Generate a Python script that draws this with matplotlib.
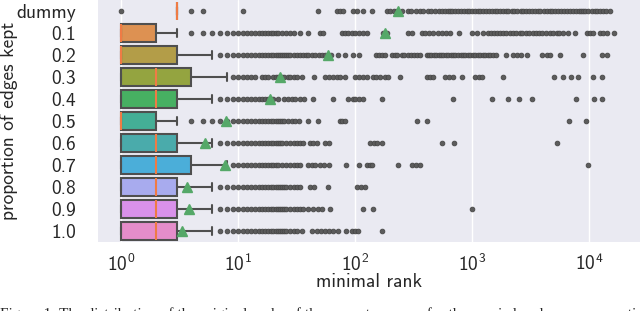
import matplotlib.pyplot as plt
import seaborn as sns

# categories (top to bottom)
labels = ['dummy', '0.1', '0.2', '0.3', '0.4', '0.5', '0.6', '0.7', '0.8', '0.9', '1.0']
box_colors = ['#e8838f', '#dd9152', '#b39d48', '#94a440', '#47b062', '#44ae96',
              '#4aabab', '#4baed9', '#a8abee', '#d991ea', '#e58dca']

# box statistics
q1 = [3, 1, 1, 1, 1, 1, 1, 1, 1, 1, 1]
med = [3, 1, 1, 2, 2, 1, 2, 2, 2, 2, 2]
q3 = [3, 2, 3, 4, 3, 2, 3, 4, 3, 3, 3]
whislo = [3, 1, 1, 1, 1, 1, 1, 1, 1, 1, 1]
whishi = [3, 3, 6, 8, 6, 3, 6, 8, 6, 6, 6]
means = [234, 180, 59, 23, 18.8, 7.9, 5.2, 7.7, 3.7, 3.8, 3.3]

# outliers per row
fl_dummy = [1, 4, 5, 11, 48, 70, 74, 79, 96, 105, 117, 140, 188, 200, 215, 228,
            250, 283, 300, 330, 360, 380, 420, 450, 480, 520, 550, 590, 620, 650,
            680, 720, 760, 800, 850, 900, 950, 1000, 1060, 1120, 1180, 1250, 1320,
            1400, 1480, 1560, 1650, 1750, 1850, 1950, 2050, 2200, 2300, 2450, 2600,
            2750, 2900, 3050, 3250, 3450, 3650, 3850, 4100, 4350, 4600, 4850, 5150,
            5450, 5800, 6100, 6500, 6900, 7300, 7700, 8200, 8600, 8900, 9300, 9900,
            10600, 11200, 11800, 12500, 13200, 14000, 15000]
fl_01 = [4, 5, 6, 7, 8, 9, 10, 11, 12, 13, 14, 15, 16, 17, 18, 19, 20, 21, 22, 24,
         26, 28, 30, 34, 40, 50, 53, 77, 82, 88, 94, 100, 108, 117, 126, 172, 180,
         188, 283, 310, 375, 400, 430, 465, 510, 560, 600, 650, 780, 1000, 1100,
         1250, 1380, 1450, 1550, 1650, 1750, 1850, 1950, 2100, 2250, 2400, 2550,
         2700, 2900, 3100, 3300, 3500, 3750, 4000, 4300, 4600, 4900, 5300, 5600,
         6000, 6600, 7600, 9600, 10200, 10800, 12500, 13300, 14300, 16500]
fl_02 = [7, 8, 9, 10, 11, 12, 13, 14, 15, 16, 17, 18, 19, 20, 21, 22, 23, 24, 25,
         26, 27, 28, 30, 32, 34, 36, 38, 40, 43, 46, 49, 52, 55, 59, 63, 71, 82, 96,
         108, 150, 160, 170, 180, 207, 218, 228, 250, 265, 285, 300, 320, 340, 360,
         410, 430, 450, 470, 495, 520, 545, 570, 600, 630, 660, 690, 720, 760, 800,
         840, 880, 920, 970, 1020, 1070, 1120, 1180, 1240, 1300, 1370, 1440, 1520,
         1620, 1960, 2250, 2450, 2650, 2950, 3950, 4350, 4650, 5700, 8900, 13000,
         14300]
fl_03 = [9, 10, 11, 12, 13, 14, 16, 17, 18, 20, 21, 22, 24, 25, 27, 28, 30, 32, 35,
         45, 56, 60, 65, 70, 75, 82, 100, 108, 117, 126, 142, 152, 163, 180, 190,
         245, 410, 440, 465, 590, 640, 690, 820, 1060, 1140, 1220, 1850, 5000, 6000,
         7000, 8000, 10900, 13000]
fl_04 = [7, 8, 9, 10, 11, 12, 13, 14, 15, 16, 17, 18, 19, 20, 22, 25, 27, 29, 31,
         34, 37, 44, 65, 87, 96, 100, 108, 117, 170, 690, 1480, 2050, 2500, 3250,
         7800, 11000, 13000]
fl_05 = [4, 5, 6, 7, 8, 9, 10, 11, 12, 13, 14, 15, 16, 17, 18, 19, 20, 21, 22, 23,
         24, 25, 27, 29, 31, 33, 40, 48, 74, 78, 82, 340, 410, 6700, 9500]
fl_06 = [7, 8, 9, 10, 11, 12, 13, 14, 15, 16, 17, 18, 19, 20, 21, 22, 23, 24, 26,
         28, 30, 32, 34, 36, 41, 44, 47, 55, 60, 134, 145, 155, 170, 560, 700, 5300]
fl_07 = [9, 10, 11, 12, 13, 14, 15, 16, 17, 18, 19, 20, 21, 22, 24, 26, 28, 30, 32,
         34, 40, 43, 46, 50, 54, 60, 84, 108, 128, 134, 140, 232, 310, 335, 360,
         9800]
fl_08 = [7, 8, 9, 10, 11, 12, 13, 14, 15, 16, 17, 18, 19, 20, 21, 22, 23, 24, 25,
         26, 28, 30, 32, 34, 41, 45, 59, 104, 112, 122]
fl_09 = [7, 8, 9, 10, 11, 12, 13, 14, 15, 16, 17, 18, 19, 20, 21, 22, 23, 24, 25,
         26, 28, 30, 32, 34, 36, 40, 44, 48, 52, 61, 117, 142, 1000]
fl_10 = [7, 8, 9, 10, 11, 12, 13, 14, 15, 16, 17, 18, 19, 20, 21, 22, 23, 24, 25,
         26, 28, 30, 32, 35, 43, 47, 51, 55, 60, 65, 71, 84, 94, 100, 106, 170]
fliers = [fl_dummy, fl_01, fl_02, fl_03, fl_04, fl_05, fl_06, fl_07, fl_08, fl_09, fl_10]

caption = ('Figure 1: The distribution of the original ranks of the correct answers '
           'for the queried nodes, per proportion of kept edges and')

sns.set_theme(style='darkgrid')
plt.rcParams['font.family'] = ['cmss10', 'DejaVu Sans']
plt.rcParams['mathtext.fontset'] = 'cm'
plt.rcParams['axes.unicode_minus'] = False
plt.rcParams['axes.formatter.use_mathtext'] = True

stats = []
for i in range(len(labels)):
    stats.append(dict(label=labels[i], q1=q1[i], med=med[i], q3=q3[i],
                      whislo=whislo[i], whishi=whishi[i], mean=means[i],
                      fliers=fliers[i]))

fig = plt.figure(figsize=(6.4, 3.11), dpi=100)
ax = fig.add_axes([0.153, 0.222, 0.847, 0.778])

gray = '#4f4f4f'
bp = ax.bxp(stats, positions=range(len(labels)), widths=0.8,
            orientation='horizontal', patch_artist=True, showmeans=True,
            boxprops=dict(edgecolor=gray, linewidth=1.5),
            whiskerprops=dict(color=gray, linewidth=1.5),
            capprops=dict(color=gray, linewidth=1.5),
            medianprops=dict(color='#ef7b45', linewidth=1.5),
            meanprops=dict(marker='^', markerfacecolor='#55a868',
                           markeredgecolor='#55a868', markersize=7),
            flierprops=dict(marker='o', markerfacecolor='#5c5c5c',
                            markeredgecolor='#474747', markersize=3.4,
                            markeredgewidth=0.6))

for patch, c in zip(bp['boxes'], box_colors):
    patch.set_facecolor(c)

ax.set_xscale('log')
ax.set_xlim(0.636, 27300)
ax.set_ylim(len(labels) - 0.5, -0.5)
ax.set_yticks(range(len(labels)))
ax.set_yticklabels(labels)
ax.grid(axis='y', visible=False)
ax.minorticks_off()
ax.tick_params(axis='x', labelsize=14, pad=2)
ax.tick_params(axis='y', labelsize=14, pad=10)
ax.set_xlabel('minimal rank', fontsize=14, labelpad=-1)
ax.set_ylabel('proportion of edges kept', fontsize=14)
ax.yaxis.set_label_coords(-0.148, 0.5)
for s in ax.spines.values():
    s.set_visible(False)

fig.text(0.0, 0.013, caption, fontsize=11, family='Liberation Serif',
         va='top', ha='left')

fig.savefig('out.png', dpi=100)
